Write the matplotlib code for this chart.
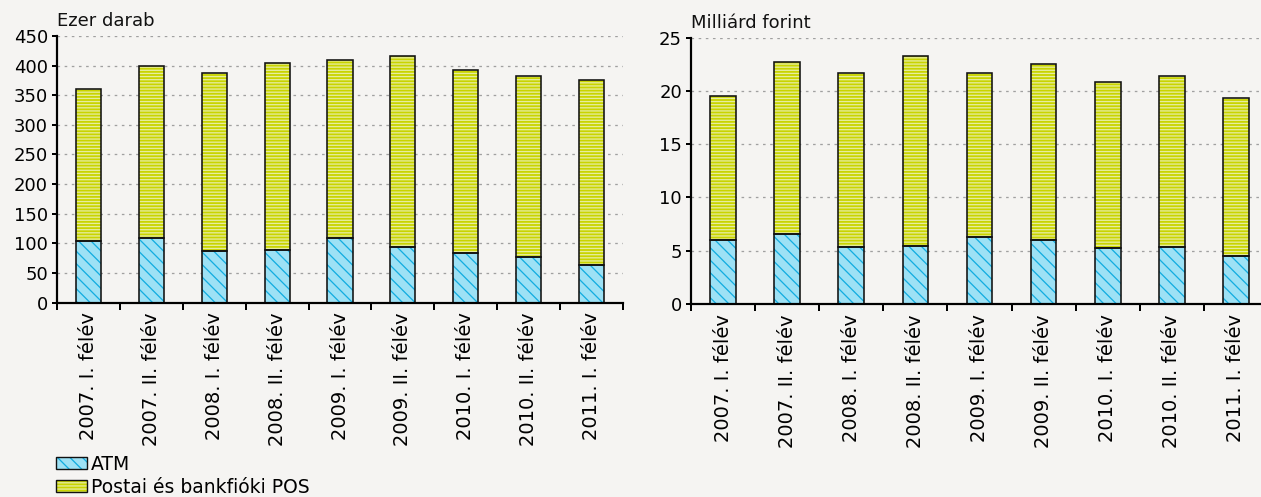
import matplotlib
matplotlib.use("Agg")
import matplotlib.pyplot as plt
from matplotlib.patches import Patch
from matplotlib.ticker import FixedLocator

# Félévek
categories = ["2007. I. félév", "2007. II. félév", "2008. I. félév", "2008. II. félév",
              "2009. I. félév", "2009. II. félév", "2010. I. félév", "2010. II. félév",
              "2011. I. félév"]

# Tranzakciók száma (ezer darab)
atm_count = [104, 109, 87, 89, 109, 94, 84, 77, 64]
total_count = [360, 400, 387, 404, 409, 416, 392, 382, 375]
pos_count = [t - a for t, a in zip(total_count, atm_count)]

# Tranzakciók értéke (milliárd forint)
atm_value = [6.04, 6.54, 5.32, 5.45, 6.29, 6.04, 5.23, 5.35, 4.54]
total_value = [19.5, 22.75, 21.66, 23.29, 21.69, 22.5, 20.87, 21.4, 19.34]
pos_value = [t - a for t, a in zip(total_value, atm_value)]

left_ticks = list(range(0, 451, 50))
right_ticks = list(range(0, 26, 5))

DPI = 75
W, H = 1261, 497
PT = 72 / DPI  # pixel -> point

BG = "#f5f4f2"
ATM_FILL = "#9de1f5"
ATM_HATCH = "#14ade0"
POS_FILL = "#c9d400"
POS_HATCH = "#e6eda0"
FS = 18 * PT
FS_X = 19.5 * PT
FS_LEG = 18.8 * PT
ATM_PATTERN = "\\\\"
POS_PATTERN = "----"

plt.rcParams["font.family"] = ["DejaVu Sans"]
plt.rcParams["hatch.linewidth"] = 1.3 * PT

fig = plt.figure(figsize=(W / DPI, H / DPI), dpi=DPI, facecolor=BG)


def px_axes(x0, y_top, x1, y_bottom):
    return fig.add_axes([x0 / W, 1 - y_bottom / H, (x1 - x0) / W, (y_bottom - y_top) / H])


def stacked(ax, bottom_vals, top_vals, ticks, unit_label):
    ax.set_facecolor(BG)
    x = list(range(len(categories)))
    bw = 0.4
    # filled, hatched layers (hatch colour comes from edgecolor)
    ax.bar(x, bottom_vals, bw, color=ATM_FILL, edgecolor=ATM_HATCH, hatch=ATM_PATTERN,
           linewidth=0, zorder=2)
    ax.bar(x, top_vals, bw, bottom=bottom_vals, color=POS_FILL, edgecolor=POS_HATCH,
           hatch=POS_PATTERN, linewidth=0, zorder=2)
    # outlines
    ax.bar(x, bottom_vals, bw, fill=False, edgecolor="#111111", linewidth=1.6 * PT, zorder=3)
    ax.bar(x, top_vals, bw, bottom=bottom_vals, fill=False, edgecolor="#111111",
           linewidth=1.6 * PT, zorder=3)

    ax.set_xlim(-0.5, len(categories) - 0.5)
    ax.set_ylim(ticks[0], ticks[-1])
    ax.set_yticks(ticks)
    ax.set_xticks(x)
    ax.set_xticklabels(categories, rotation=90, fontsize=FS_X)
    ax.xaxis.set_minor_locator(FixedLocator([i - 0.5 for i in range(len(categories) + 1)]))
    ax.tick_params(axis="x", which="major", length=0, pad=10 * PT)
    ax.tick_params(axis="x", which="minor", length=7 * PT, width=2 * PT, direction="out")
    ax.tick_params(axis="y", length=5 * PT, width=2 * PT, pad=4 * PT, labelsize=FS)
    for s in ("top", "right"):
        ax.spines[s].set_visible(False)
    for s in ("left", "bottom"):
        ax.spines[s].set_linewidth(2.2 * PT)
        ax.spines[s].set_zorder(4)
    ax.yaxis.grid(True, color="#a0a0a0", linestyle=(0, (2, 3.5)), linewidth=1.3 * PT, zorder=1)
    ax.set_axisbelow(True)
    ax.text(0.0, 1.0 + 6 / ax.bbox.height, unit_label, transform=ax.transAxes,
            ha="left", va="bottom", fontsize=FS, color="#111111")


ax1 = px_axes(57, 36, 623, 302.5)
stacked(ax1, atm_count, pos_count, left_ticks, "Ezer darab")

ax2 = px_axes(691, 37.7, 1268, 304)
stacked(ax2, atm_value, pos_value, right_ticks, "Milliárd forint")

h_atm = (Patch(facecolor=ATM_FILL, edgecolor=ATM_HATCH, hatch=ATM_PATTERN, linewidth=0),
         Patch(fill=False, edgecolor="#111111", linewidth=1.4 * PT))
h_pos = (Patch(facecolor=POS_FILL, edgecolor=POS_HATCH, hatch=POS_PATTERN, linewidth=0),
         Patch(fill=False, edgecolor="#111111", linewidth=1.4 * PT))
fig.legend([h_atm, h_pos], ["ATM", "Postai és bankfióki POS"],
           loc="upper left", bbox_to_anchor=(56 / W, 1 - 455 / H),
           frameon=False, fontsize=FS_LEG, borderpad=0, borderaxespad=0,
           handlelength=1.65, handleheight=0.6, handletextpad=0.2, labelspacing=0.2)

fig.savefig("out.png", dpi=DPI, facecolor=BG)
